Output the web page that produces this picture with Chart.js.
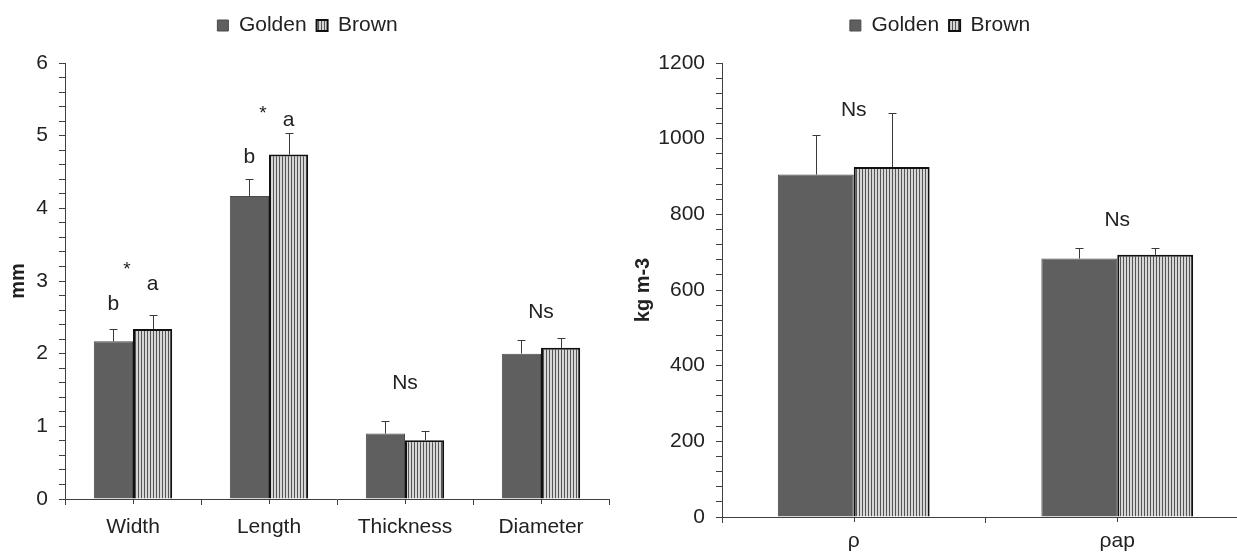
<!DOCTYPE html>
<html>
<head>
<meta charset="utf-8">
<script src="https://cdn.jsdelivr.net/npm/chart.js@4.4.1/dist/chart.umd.min.js"></script>
<style>
  html, body { margin: 0; padding: 0; background: #fff; overflow: hidden; width: 1237px; height: 554px; }
  #sizeChart { position: absolute; left: 0; top: 0; }
  #densChart { position: absolute; left: 622px; top: 0; }
</style>
</head>
<body>
<canvas id="sizeChart" width="615" height="554"></canvas>
<canvas id="densChart" width="636" height="554"></canvas>
<script>
// dimensions (mm)
var sizeLabels = ['Width', 'Length', 'Thickness', 'Diameter'];
var sizeGolden = [2.17, 4.17, 0.90, 2.00];
var sizeBrown = [2.34, 4.74, 0.81, 2.08];
var sizeGoldenErr = [0.17, 0.24, 0.17, 0.19];
var sizeBrownErr = [0.19, 0.29, 0.13, 0.14];

// densities (kg m-3)
var densLabels = ['ρ', 'ρap'];
var densGolden = [905, 683];
var densBrown = [925, 693];
var densGoldenErr = [105, 27];
var densBrownErr = [143, 18];

// significance marks: category, bar (0 golden, 1 brown, -1 between), text, value
var sizeNotes = [
  [0, 0, 'b', 2.68], [0, -1, '*', 3.16], [0, 1, 'a', 2.95],
  [1, 0, 'b', 4.70], [1, -1, '*', 5.30], [1, 1, 'a', 5.21],
  [2, -1, 'Ns', 1.59], [3, -1, 'Ns', 2.57]
];
var densNotes = [[0, -1, 'Ns', 1074], [1, -1, 'Ns', 785]];

var FONT = "'Liberation Sans', Arial, sans-serif";
var FS = 21;
var INK = '#222';
var AXIS = '#404040';

function stripes(ctx) {
  var c = document.createElement('canvas');
  c.width = 3; c.height = 3;
  var g = c.getContext('2d');
  g.fillStyle = '#d6d6d6'; g.fillRect(0, 0, 3, 3);
  g.fillStyle = '#555'; g.fillRect(0, 0, 1, 3);
  return ctx.createPattern(c, 'repeat');
}

var errorBars = {
  id: 'errorBars',
  afterDatasetsDraw: function(chart) {
    var ctx = chart.ctx, y = chart.scales.y;
    ctx.save();
    ctx.strokeStyle = '#3a3a3a';
    ctx.lineWidth = 1;
    chart.data.datasets.forEach(function(ds, d) {
      chart.getDatasetMeta(d).data.forEach(function(bar, i) {
        var top = Math.round(y.getPixelForValue(ds.data[i] + ds.errors[i])) + 0.5;
        var x = Math.round(bar.x) + 0.5;
        ctx.beginPath();
        ctx.moveTo(x, bar.y); ctx.lineTo(x, top);
        ctx.moveTo(x - 4, top); ctx.lineTo(x + 4, top);
        ctx.stroke();
      });
    });
    ctx.restore();
  }
};

var notes = {
  id: 'notes',
  afterDatasetsDraw: function(chart, args, opts) {
    var ctx = chart.ctx, xs = chart.scales.x, y = chart.scales.y;
    ctx.save();
    ctx.fillStyle = INK;
    ctx.textAlign = 'center';
    ctx.textBaseline = 'middle';
    opts.items.forEach(function(n) {
      var x;
      if (n[1] < 0) x = xs.getPixelForValue(n[0]);
      else x = chart.getDatasetMeta(n[1]).data[n[0]].x;
      if (n[2] === '*') {
        x -= 6;
        ctx.font = '19px ' + FONT;
      } else {
        ctx.font = FS + 'px ' + FONT;
      }
      ctx.fillText(n[2], x, y.getPixelForValue(n[3]));
    });
    ctx.restore();
  }
};

// small ticks under each category centre
var centreTicks = {
  id: 'centreTicks',
  afterDraw: function(chart) {
    var ctx = chart.ctx, xs = chart.scales.x;
    ctx.save();
    ctx.strokeStyle = AXIS;
    ctx.lineWidth = 1;
    for (var i = 0; i < chart.data.labels.length; i++) {
      var x = Math.round(xs.getPixelForValue(i)) + 0.5;
      ctx.beginPath();
      ctx.moveTo(x, xs.top); ctx.lineTo(x, xs.top + 5);
      ctx.stroke();
    }
    ctx.restore();
  }
};

var legendGap = {
  id: 'legendGap',
  beforeInit: function(chart) {
    var fit = chart.legend.fit;
    chart.legend.fit = function() {
      fit.bind(chart.legend)();
      this.height += 17;
    };
  }
};

function makeChart(id, labels, golden, brown, gErr, bErr, noteList, o) {
  var ctx = document.getElementById(id).getContext('2d');
  return new Chart(ctx, {
    type: 'bar',
    data: {
      labels: labels,
      datasets: [{
        label: 'Golden',
        data: golden,
        errors: gErr,
        backgroundColor: '#5f5f5f',
        borderColor: '#4a4a4a',
        borderWidth: 1,
        categoryPercentage: 0.576,
        barPercentage: 1
      }, {
        label: 'Brown',
        data: brown,
        errors: bErr,
        backgroundColor: stripes(ctx),
        borderColor: '#111',
        borderWidth: 2,
        categoryPercentage: 0.576,
        barPercentage: 1
      }]
    },
    options: {
      responsive: false,
      animation: false,
      layout: { padding: { top: 5, right: o.padSide, left: o.padSide, bottom: 0 } },
      plugins: {
        legend: {
          position: 'top',
          labels: { boxWidth: 11, boxHeight: 11, padding: 10, color: INK, font: { size: FS, family: FONT } }
        },
        tooltip: { enabled: false },
        notes: { items: noteList }
      },
      scales: {
        x: {
          afterFit: function(s) { s.height = o.xHeight; },
          border: { display: true, color: AXIS, width: 1 },
          grid: { drawOnChartArea: false, drawTicks: true, tickLength: 6, color: AXIS, offset: true },
          ticks: { padding: o.xPad, maxRotation: 0, color: INK, font: { size: FS, family: FONT } }
        },
        y: {
          min: 0,
          max: o.max,
          afterFit: function(s) { s.width = o.width; },
          border: { display: true, color: AXIS, width: 1 },
          grid: { drawOnChartArea: false, drawTicks: true, tickLength: 6, color: AXIS },
          ticks: {
            stepSize: o.minor,
            autoSkip: false,
            padding: 11,
            color: INK,
            font: { size: FS, family: FONT },
            callback: function(v) {
              var q = v / o.major;
              return Math.abs(q - Math.round(q)) < 1e-6 ? Math.round(v) : '';
            }
          },
          title: {
            display: true,
            text: o.title,
            color: INK,
            font: { size: 20, weight: 'bold', family: FONT },
            padding: { top: 0, bottom: 0 }
          }
        }
      }
    },
    plugins: [errorBars, notes, centreTicks, legendGap]
  });
}

makeChart('sizeChart', sizeLabels, sizeGolden, sizeBrown, sizeGoldenErr, sizeBrownErr, sizeNotes,
  { max: 6, minor: 0.2, major: 1, width: 59, padSide: 6, xHeight: 55, xPad: 10, title: 'mm' });
makeChart('densChart', densLabels, densGolden, densBrown, densGoldenErr, densBrownErr, densNotes,
  { max: 1200, minor: 40, major: 200, width: 91, padSide: 9, xHeight: 37, xPad: 6, title: 'kg m-3' });
</script>
</body>
</html>
